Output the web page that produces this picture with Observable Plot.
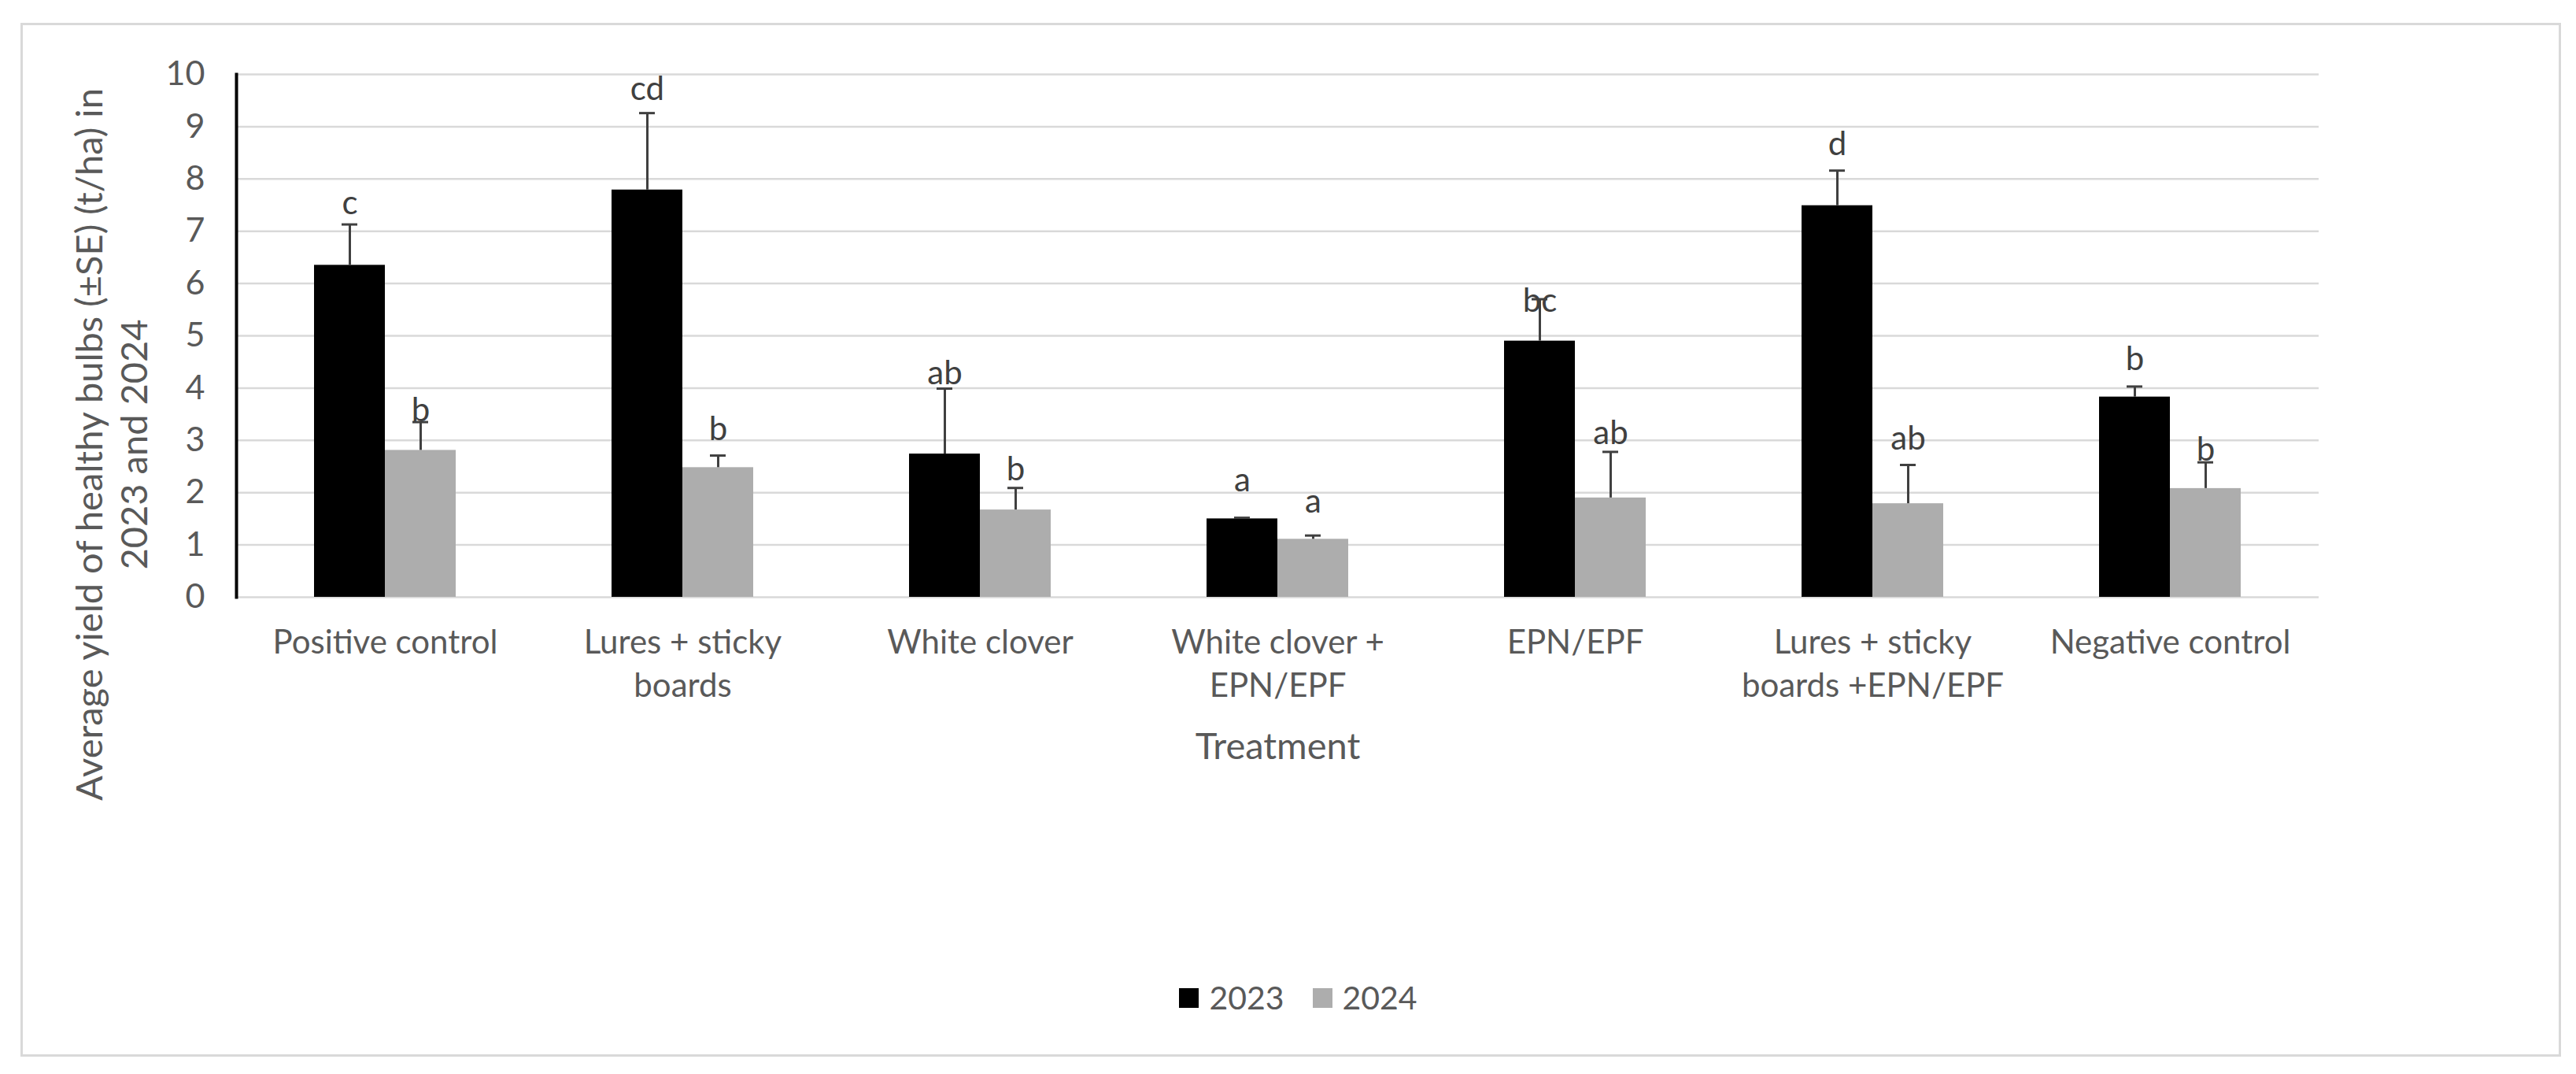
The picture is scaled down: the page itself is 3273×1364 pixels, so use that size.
<!DOCTYPE html>
<html>
<head>
<meta charset="utf-8">
<script src="https://cdn.jsdelivr.net/npm/d3@7"></script>
<script src="https://cdn.jsdelivr.net/npm/@observablehq/plot@0.6"></script>
<style>
  html, body { margin: 0; padding: 0; background: #fff; }
  body { width: 3273px; height: 1364px; position: relative; overflow: hidden; font-family: Lato, "Open Sans", sans-serif; }
  #frame { position: absolute; left: 26px; top: 29px; width: 3228px; height: 1313px; border: 3px solid #d9d9d9; box-sizing: border-box; }
  #chart { position: absolute; left: 0; top: 0; }
  #legend { position: absolute; left: 0; top: 1200px; width: 3273px; padding-top: 46px; display: flex; justify-content: center; gap: 36px; font-size: 41px; color: #595959; line-height: 42px; padding-left: 26px; box-sizing: border-box; }
  .item { display: flex; align-items: center; gap: 13px; }
  .sw { width: 25px; height: 25px; display: inline-block; }
</style>
</head>
<body>
<div id="frame"></div>
<div id="chart"></div>
<div id="legend"></div>
<script>
const categories = ["Positive control", "Lures + sticky boards", "White clover", "White clover + EPN/EPF", "EPN/EPF", "Lures + sticky boards +EPN/EPF", "Negative control"];
const categoryTickLabels = ["Positive control", "Lures + sticky\nboards", "White clover", "White clover +\nEPN/EPF", "EPN/EPF", "Lures + sticky\nboards +EPN/EPF", "Negative control"];
const years = ["2023", "2024"];
const yield2023 = [6.35, 7.79, 2.74, 1.50, 4.90, 7.49, 3.83];
const se2023 = [0.78, 1.47, 1.25, 0.02, 0.80, 0.67, 0.20];
const yield2024 = [2.81, 2.48, 1.67, 1.11, 1.90, 1.79, 2.08];
const se2024 = [0.54, 0.23, 0.42, 0.07, 0.88, 0.74, 0.50];
const letters2023 = ["c", "cd", "ab", "a", "bc", "d", "b"];
const letters2024 = ["b", "b", "b", "a", "ab", "ab", "b"];
const letterY2023 = [7.32, 9.51, 4.08, 2.02, 5.46, 8.46, 4.35];
const letterY2024 = [3.37, 3.00, 2.23, 1.62, 2.93, 2.83, 2.61];
const yTicks = [0, 1, 2, 3, 4, 5, 6, 7, 8, 9, 10];
const yTitle = "Average yield of healthy bulbs (±SE) (t/ha) in\n2023 and 2024";
const xTitle = "Treatment";
const colors = ["#000000", "#adadad"];

const data = [];
categories.forEach((c, i) => {
  data.push({cat: c, year: "2023", value: yield2023[i], se: se2023[i], letter: letters2023[i], ly: letterY2023[i]});
  data.push({cat: c, year: "2024", value: yield2024[i], se: se2024[i], letter: letters2024[i], ly: letterY2024[i]});
});

const plot = Plot.plot({
  width: 3273,
  height: 1200,
  marginTop: 94,
  marginBottom: 442,
  marginLeft: 298,
  marginRight: 326,
  style: {fontFamily: "Lato, sans-serif", fontSize: "42px", color: "#595959", background: "transparent"},
  fx: {domain: categories, padding: 0, label: null},
  x: {domain: years, paddingInner: 0, paddingOuter: 1.1, axis: null},
  y: {domain: [0, 10], axis: null},
  color: {domain: years, range: colors},
  marks: [
    Plot.gridY(yTicks, {stroke: "#d9d9d9", strokeOpacity: 1, strokeWidth: 2.5}),
    Plot.barY(data, {fx: "cat", x: "year", y: "value", fill: "year"}),
    Plot.ruleX(data, {fx: "cat", x: "year", y1: "value", y2: d => d.value + d.se, stroke: "#404040", strokeWidth: 3}),
    Plot.tickY(data, {fx: "cat", x: "year", y: d => d.value + d.se, stroke: "#404040", strokeWidth: 3, insetLeft: 35, insetRight: 35}),
    Plot.text(data, {fx: "cat", x: "year", y: "ly", text: "letter", lineAnchor: "bottom", fontSize: 42, fill: "#404040"}),
    Plot.axisY(yTicks, {tickSize: 0, tickPadding: 40, fontSize: 43, fill: "#595959", label: null, tickFormat: d => String(d)}),
    Plot.axisFx({anchor: "bottom", tickSize: 0, tickPadding: 33, fontSize: 42, lineHeight: 1.3, fill: "#595959",
      tickFormat: d => categoryTickLabels[categories.indexOf(d)], label: null}),
    Plot.axisFx({anchor: "bottom", tickSize: 0, fill: "#595959", ticks: [], fontSize: 47,
      label: xTitle, labelAnchor: "center", labelOffset: 205}),
    Plot.frame({anchor: "left", facetAnchor: "left", stroke: "#000", strokeWidth: 4}),
    Plot.text([yTitle], {frameAnchor: "left", facetAnchor: "left", text: d => d, textAnchor: "middle", rotate: -90, dx: -160, dy: 138, lineAnchor: "middle", lineHeight: 1.21, fontSize: 47, fill: "#595959"})
  ]
});
document.getElementById("chart").appendChild(plot);

const legend = document.getElementById("legend");
years.forEach((y, i) => {
  const item = document.createElement("div");
  item.className = "item";
  const sw = document.createElement("span");
  sw.className = "sw";
  sw.style.background = colors[i];
  const t = document.createElement("span");
  t.textContent = y;
  item.appendChild(sw);
  item.appendChild(t);
  legend.appendChild(item);
});
</script>
</body>
</html>
